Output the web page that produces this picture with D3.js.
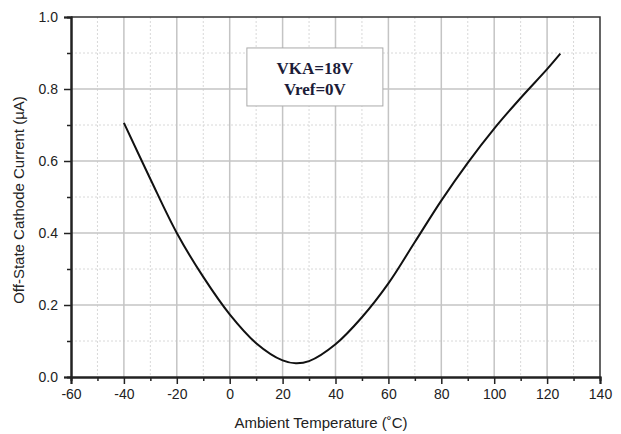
<!DOCTYPE html>
<html>
<head>
<meta charset="utf-8">
<script src="https://cdn.jsdelivr.net/npm/d3@7"></script>
<style>
  body { margin: 0; background: #fff; }
  svg { display: block; font-family: "Liberation Sans", Arial, sans-serif; }
</style>
</head>
<body>
<div id="chart"></div>
<script>
// values
var temps = [-40, -30, -20, -10, 0, 10, 20, 25, 30, 40, 50, 60, 70, 80, 90, 100, 110, 120, 125];
var current = [0.706, 0.55, 0.40, 0.278, 0.174, 0.094, 0.046, 0.038, 0.044, 0.091, 0.166, 0.26, 0.375, 0.49, 0.595, 0.69, 0.775, 0.855, 0.898];
var xTicks = [-60, -40, -20, 0, 20, 40, 60, 80, 100, 120, 140];
var yTicks = [0.0, 0.2, 0.4, 0.6, 0.8, 1.0];
var labelLines = ["VKA=18V", "Vref=0V"];

var width = 621, height = 434;
var margin = { top: 17, right: 21, bottom: 57, left: 71 };
var w = width - margin.left - margin.right;
var h = height - margin.top - margin.bottom;

var svg = d3.select("#chart").append("svg")
    .attr("width", width)
    .attr("height", height);

var g = svg.append("g")
    .attr("transform", "translate(" + margin.left + "," + margin.top + ")");

var x = d3.scaleLinear().domain([-60, 140]).range([0, w]);
var y = d3.scaleLinear().domain([0, 1]).range([h, 0]);

// minor positions halfway between majors
var xMinor = d3.range(-50, 140, 20);
var yMinor = d3.range(0.1, 1.0, 0.2);

// minor grid (dotted)
g.selectAll(".gx-minor").data(xMinor).enter().append("line")
    .attr("x1", d => x(d)).attr("x2", d => x(d))
    .attr("y1", 0).attr("y2", h)
    .attr("stroke", "#d8d8d8").attr("stroke-width", 1)
    .attr("stroke-dasharray", "2,2");
g.selectAll(".gy-minor").data(yMinor).enter().append("line")
    .attr("x1", 0).attr("x2", w)
    .attr("y1", d => y(d)).attr("y2", d => y(d))
    .attr("stroke", "#d8d8d8").attr("stroke-width", 1)
    .attr("stroke-dasharray", "2,2");

// major grid
g.selectAll(".gx").data(xTicks.slice(1, -1)).enter().append("line")
    .attr("x1", d => x(d)).attr("x2", d => x(d))
    .attr("y1", 0).attr("y2", h)
    .attr("stroke", "#c4c4c4").attr("stroke-width", 1.5);
g.selectAll(".gy").data(yTicks.slice(1, -1)).enter().append("line")
    .attr("x1", 0).attr("x2", w)
    .attr("y1", d => y(d)).attr("y2", d => y(d))
    .attr("stroke", "#c4c4c4").attr("stroke-width", 1.5);

// frame top/right
g.append("path")
    .attr("d", "M0,0 H" + w + " V" + h)
    .attr("fill", "none")
    .attr("stroke", "#333")
    .attr("stroke-width", 1.5);

// axes, plain hyphen for negatives like the original
var fmtX = d => String(d);
var fmtY = d => d.toFixed(1);

var xAxis = g.append("g")
    .attr("transform", "translate(0," + h + ")")
    .call(d3.axisBottom(x).tickValues(xTicks).tickSize(7).tickPadding(5).tickFormat(fmtX));
var xAxisMinor = g.append("g")
    .attr("transform", "translate(0," + h + ")")
    .call(d3.axisBottom(x).tickValues(xMinor).tickSize(4).tickFormat(""));
var yAxis = g.append("g")
    .call(d3.axisLeft(y).tickValues(yTicks).tickSize(7).tickPadding(6).tickFormat(fmtY));
var yAxisMinor = g.append("g")
    .call(d3.axisLeft(y).tickValues(yMinor).tickSize(4).tickFormat(""));

[xAxis, xAxisMinor, yAxis, yAxisMinor].forEach(function (a) {
    a.select(".domain").attr("stroke", "#222").attr("stroke-width", 2);
    a.selectAll(".tick line").attr("stroke", "#222").attr("stroke-width", 1.5);
    a.selectAll(".tick text")
        .attr("fill", "#222")
        .attr("font-size", 14)
        .attr("font-family", "'Liberation Sans', Arial, sans-serif");
});

// the curve
var line = d3.line()
    .x(d => x(d[0]))
    .y(d => y(d[1]))
    .curve(d3.curveCatmullRom.alpha(0.5));

g.append("path")
    .datum(d3.zip(temps, current))
    .attr("fill", "none")
    .attr("stroke", "#111")
    .attr("stroke-width", 2)
    .attr("d", line);

// annotation box
var box = g.append("g").attr("transform", "translate(" + x(6.5) + "," + y(0.914) + ")");
box.append("rect")
    .attr("width", 136).attr("height", 58)
    .attr("fill", "#fff")
    .attr("stroke", "#aaa")
    .attr("stroke-width", 1);
box.selectAll("text").data(labelLines).enter().append("text")
    .attr("x", 68)
    .attr("y", (d, i) => 26 + i * 21)
    .attr("text-anchor", "middle")
    .attr("font-family", "'Liberation Serif', 'Times New Roman', serif")
    .attr("font-weight", "bold")
    .attr("font-size", 17)
    .attr("fill", "#1c1c38")
    .text(d => d);

// axis titles
svg.append("text")
    .attr("x", 321)
    .attr("y", 428)
    .attr("text-anchor", "middle")
    .attr("font-size", 15)
    .attr("fill", "#222")
    .text("Ambient Temperature (˚C)");

svg.append("text")
    .attr("transform", "translate(24," + (margin.top + h / 2 + 3) + ") rotate(-90)")
    .attr("text-anchor", "middle")
    .attr("font-size", 15)
    .attr("fill", "#222")
    .text("Off-State Cathode Current (µA)");
</script>
</body>
</html>
